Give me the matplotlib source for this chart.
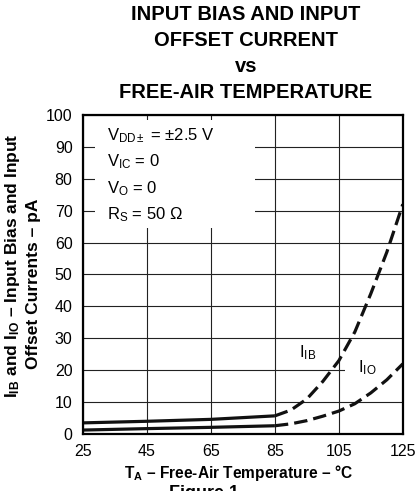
import matplotlib
matplotlib.use("Agg")
import matplotlib.pyplot as plt
from matplotlib.patches import Rectangle

plt.rcParams['font.family'] = ['Liberation Sans', 'DejaVu Sans']
plt.rcParams['mathtext.fontset'] = 'custom'
plt.rcParams['mathtext.rm'] = 'Liberation Sans'
plt.rcParams['mathtext.bf'] = 'Liberation Sans:bold'
plt.rcParams['mathtext.it'] = 'Liberation Sans'

# data (T in degC, currents in pA)
temp = [25, 45, 65, 85, 90, 95, 100, 105, 110, 115, 120, 125]
i_ib = [3.5, 4.0, 4.6, 5.7, 7.5, 11.0, 16.5, 23.0, 32.0, 44.0, 57.0, 72.0]
i_io = [1.25, 1.7, 2.1, 2.6, 3.2, 4.2, 5.6, 7.2, 9.5, 12.9, 17.0, 22.0]
solid_end = 4  # points up to 85 C drawn solid, the rest dashed

x_ticks = [25, 45, 65, 85, 105, 125]
y_ticks = list(range(0, 101, 10))

fig = plt.figure(figsize=(4.17, 4.91), dpi=100)
ax = fig.add_axes([0.199, 0.116, 0.767, 0.650])

ax.set_xlim(25, 125)
ax.set_ylim(0, 100)
ax.set_xticks(x_ticks)
ax.set_yticks(y_ticks)
ax.tick_params(length=0, labelsize=11.5)
ax.tick_params(axis='y', pad=7.5)
ax.tick_params(axis='x', pad=7)
ax.grid(True, color='#222222', linewidth=0.8, zorder=1)
ax.set_axisbelow(True)
for s in ax.spines.values():
    s.set_linewidth(1.6)
    s.set_zorder(6)

# white areas behind the condition text and the I_IO label
ax.add_patch(Rectangle((0.0375, 0.646), 0.5, 0.339, transform=ax.transAxes,
                       facecolor='white', edgecolor='none', zorder=2))
ax.add_patch(Rectangle((0.819, 0.175), 0.181, 0.057, transform=ax.transAxes,
                       facecolor='white', edgecolor='none', zorder=2))

for ys in (i_ib, i_io):
    ax.plot(temp[:solid_end], ys[:solid_end], color='#111111', lw=2.3,
            solid_capstyle='butt', zorder=4)
    ax.plot(temp[solid_end - 1:], ys[solid_end - 1:], color='#111111', lw=2.3,
            dashes=(4.2, 1.9), zorder=4)

cond = [r'V$_{\mathrm{DD\pm}}$ = $\pm$2.5 V',
        r'V$_{\mathrm{IC}}$ = 0',
        r'V$_{\mathrm{O}}$ = 0',
        r'R$_{\mathrm{S}}$ = 50 $\Omega$']
for i, t in enumerate(cond):
    ax.text(32.5, 93.5 - i * 8.3, t, fontsize=12, va='center', ha='left', zorder=3)

ax.text(95.3, 25.4, r'I$_{\mathrm{IB}}$', fontsize=12, ha='center', va='center', zorder=3)
ax.text(114, 20.7, r'I$_{\mathrm{IO}}$', fontsize=12, ha='center', va='center', zorder=3)

title = ['INPUT BIAS AND INPUT', 'OFFSET CURRENT', 'vs', 'FREE-AIR TEMPERATURE']
for i, t in enumerate(title):
    fig.text(0.59, 1 - (15 + 26 * i) / 491, t, fontsize=14.5, fontweight='bold',
             ha='center', va='center')

fig.text(0.571, 1 - 473 / 491, r'T$_{\mathbf{A}}$ – Free-Air Temperature – °C',
         fontsize=11.2, fontweight='bold', ha='center', va='center')
fig.text(13 / 417, 1 - 266 / 491, r'I$_{\mathbf{IB}}$ and I$_{\mathbf{IO}}$ – Input Bias and Input',
         fontsize=12.5, fontweight='bold', rotation=90, ha='center', va='center')
fig.text(34 / 417, 1 - 284 / 491, 'Offset Currents – pA',
         fontsize=12.5, fontweight='bold', rotation=90, ha='center', va='center')
# the reference shows only the top of this caption, cut by the bottom edge
fig.text(0.49, -0.014, 'Figure 1', fontsize=13, fontweight='bold', ha='center', va='baseline')

fig.savefig('out.png', dpi=100)
